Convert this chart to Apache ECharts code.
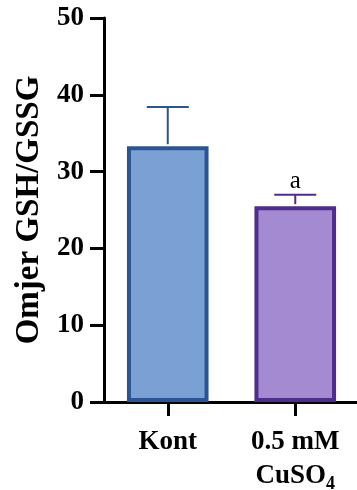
<!DOCTYPE html>
<html><head><meta charset="utf-8">
<script src="https://cdn.jsdelivr.net/npm/echarts@6/dist/echarts.min.js"></script>
<style>html,body{margin:0;padding:0;background:#fff}#c{width:357px;height:490px}</style>
</head><body><div id="c"></div>
<script>
const categories = ['Kont', '0.5 mM\nCuSO4'];
const means = [33.3, 25.5];
const errors = [5.1, 1.5];
const sigLabels = ['', 'a'];
const yTicks = [0, 10, 20, 30, 40, 50];
const fills = ['#7BA0D4', '#A48AD1'];
const borders = ['#2B5592', '#4F2D8D'];

const chart = echarts.init(document.getElementById('c'));
const font = 'Liberation Serif, Times New Roman, serif';
chart.setOption({
  animation: false,
  grid: {left: 104, right: -2, top: 18, bottom: 88, outerBoundsMode: 'none', containLabel: false},
  xAxis: {
    type: 'category', data: categories,
    axisLine: {lineStyle: {color: '#000', width: 3}},
    axisTick: {show: true, interval: 0, length: 14, lineStyle: {color: '#000', width: 3}, alignWithLabel: true},
    axisLabel: {
      interval: 0, margin: 23, color: '#000', fontFamily: font, fontWeight: 'bold', fontSize: 27, lineHeight: 34,
      formatter: v => v.replace('CuSO4', 'CuSO{sub|4}'),
      rich: {sub: {fontFamily: font, fontWeight: 'bold', fontSize: 18, lineHeight: 34, verticalAlign: 'bottom', padding: [14,0,0,0]}}
    }
  },
  yAxis: {
    type: 'value', min: 0, max: 50, interval: 10,
    name: 'Omjer GSH/GSSG', nameLocation: 'middle', nameGap: 56,
    nameTextStyle: {color: '#000', fontFamily: font, fontWeight: 'bold', fontSize: 33},
    axisLine: {show: true, lineStyle: {color: '#000', width: 3}},
    axisTick: {show: true, length: 14, lineStyle: {color: '#000', width: 3}},
    axisLabel: {margin: 20, color: '#000', fontFamily: font, fontWeight: 'bold', fontSize: 27,
      formatter: v => yTicks.includes(v) ? String(v) : ''},
    splitLine: {show: false}
  },
  series: [
    {
      type: 'bar', barWidth: '64%',
      data: means.map((v, i) => ({value: v, itemStyle: {color: fills[i], borderColor: borders[i], borderWidth: 4}})),
      z: 2
    },
    {
      type: 'custom', z: 3,
      data: means.map((v, i) => [i, v, errors[i]]),
      renderItem: (params, api) => {
        const i = api.value(0), m = api.value(1), e = api.value(2);
        const base = api.coord([i, m]);
        const top = api.coord([i, m + e]);
        const half = 21;
        const c = borders[i];
        const children = [
          {type: 'line', shape: {x1: base[0], y1: base[1] - 2, x2: top[0], y2: top[1]}, style: {stroke: c, lineWidth: 2}},
          {type: 'line', shape: {x1: top[0] - half, y1: top[1], x2: top[0] + half, y2: top[1]}, style: {stroke: c, lineWidth: 2}}
        ];
        if (sigLabels[i]) {
          children.push({type: 'text', style: {text: sigLabels[i], x: top[0], y: top[1] - 1, align: 'center', verticalAlign: 'bottom',
            font: '25px ' + font, fill: '#000'}});
        }
        return {type: 'group', children};
      }
    }
  ]
});
</script></body></html>
